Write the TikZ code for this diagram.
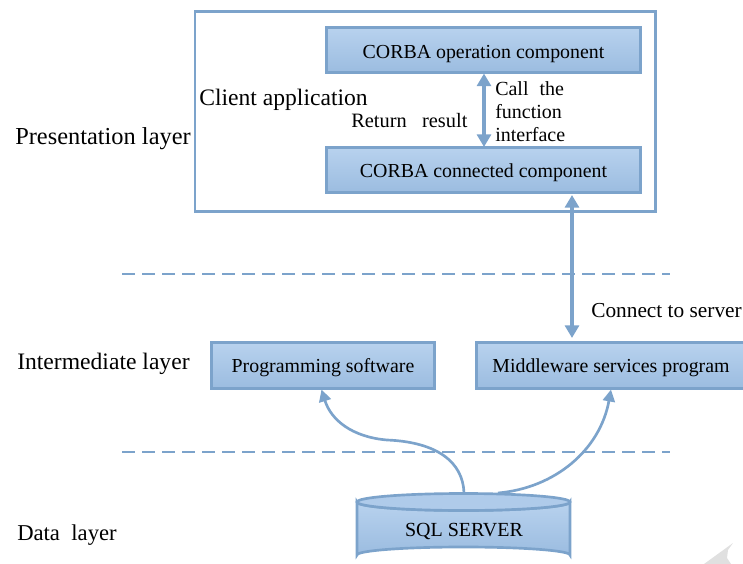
\documentclass[tikz,border=0pt]{standalone}
\usepackage{fontspec}
\setmainfont{Liberation Serif}
\usetikzlibrary{arrows.meta,shapes.geometric}
\definecolor{edge}{HTML}{7CA3CB}
\definecolor{topfill}{HTML}{B8D2EE}
\definecolor{botfill}{HTML}{9BBCE0}
\newcommand{\lowered}[2]{\smash{\raisebox{-#1}{#2}}}
\tikzset{
 x=0.75pt,y=-0.75pt,
 comp/.style={draw=edge,line width=2.2pt,top color=topfill,bottom color=botfill,inner sep=0pt,font=\fontsize{14.9pt}{17pt}\selectfont,text=black},
 txt/.style={inner sep=0pt,text=black,font=\fontsize{15pt}{17pt}\selectfont},
 lay/.style={txt,anchor=west},
 dbl/.style={draw=edge,line width=2.4pt,{Triangle[length=9.5pt,width=10.5pt]}-{Triangle[length=9.5pt,width=10.5pt]}},
 cur/.style={draw=edge,line width=2pt,-{Triangle[length=9pt,width=9pt]}},
 sep/.style={draw=edge,line width=2.1pt,dash pattern=on 9.75pt off 5.25pt},
}
\begin{document}
\begin{tikzpicture}
\useasboundingbox (0,0) rectangle (743,564);
\fill[black!12] (704,564) -- (733,543) -- (728,550) -- (727,558) -- (731,564) -- cycle;
\node[draw=edge,line width=2.2pt,minimum width=345.5pt,minimum height=150pt,anchor=north west,inner sep=0pt] (client) at (193.5,10) {};
\node[comp,minimum width=235.5pt,minimum height=34pt] (op) at (483.5,50) {\lowered{6pt}{CORBA operation component}};
\node[comp,minimum width=235.5pt,minimum height=34pt] (conn) at (483.5,170) {\lowered{5.5pt}{CORBA connected component}};
\node[comp,minimum width=167pt,minimum height=34.5pt] (prog) at (323,365.5) {\lowered{5pt}{Programming software}};
\node[comp,minimum width=202pt,minimum height=34.5pt] (mid) at (611,365.5) {\lowered{5pt}{Middleware services program}};
\node[lay,font=\fontsize{17.7pt}{20pt}\selectfont] (cl) at (199,99.5) {Client application};
\node[lay,font=\fontsize{15.3pt}{18pt}\selectfont] (ret) at (351,121) {Return\hspace{0.5em} result};
\node[txt,anchor=north west,align=left,font=\fontsize{15pt}{17.2pt}\selectfont] (call) at (495,81) {Call\hspace{0.55em}the\\function\\interface};
\node[lay,font=\fontsize{18.3pt}{20pt}\selectfont] (pres) at (15,139) {Presentation layer};
\node[lay,font=\fontsize{17.7pt}{20pt}\selectfont] (inter) at (17,364) {Intermediate layer};
\node[lay,font=\fontsize{17pt}{20pt}\selectfont] (data) at (17,535) {Data\hspace{0.25em} layer};
\node[lay,font=\fontsize{16pt}{18pt}\selectfont] (cts) at (591,311) {Connect to server};
% cylinder
\fill[top color=topfill,bottom color=botfill,draw=edge,line width=2pt] (357,502) -- (357,555) arc[start angle=180,end angle=360,x radius=106.5,y radius=8] -- (570,502) arc[start angle=0,end angle=180,x radius=106.5,y radius=8.5] -- cycle;
\draw[edge,line width=2pt,fill=topfill!70!botfill] (463.5,502) ellipse[x radius=106.5,y radius=8.5];
\node[txt] (sql) at (464,531) {SQL SERVER};
\coordinate (a1) at (464,493);
\coordinate (a2) at (498,493);
\coordinate (t1) at (321.5,389.5);
\coordinate (t2) at (611,389.5);
\draw[dbl] (484,73.5) -- (484,147);
\draw[dbl] (572,195) -- (572,338);
\draw[cur] (a1) .. controls (463,462) and (437,442) .. (387,440) .. controls (352,437) and (331,420) .. (t1);
\draw[cur] (a2) .. controls (555,488) and (600,450) .. (t2);
\draw[sep] (122,274) -- (670,274);
\draw[sep] (122,452) -- (670,452);
\end{tikzpicture}
\end{document}
